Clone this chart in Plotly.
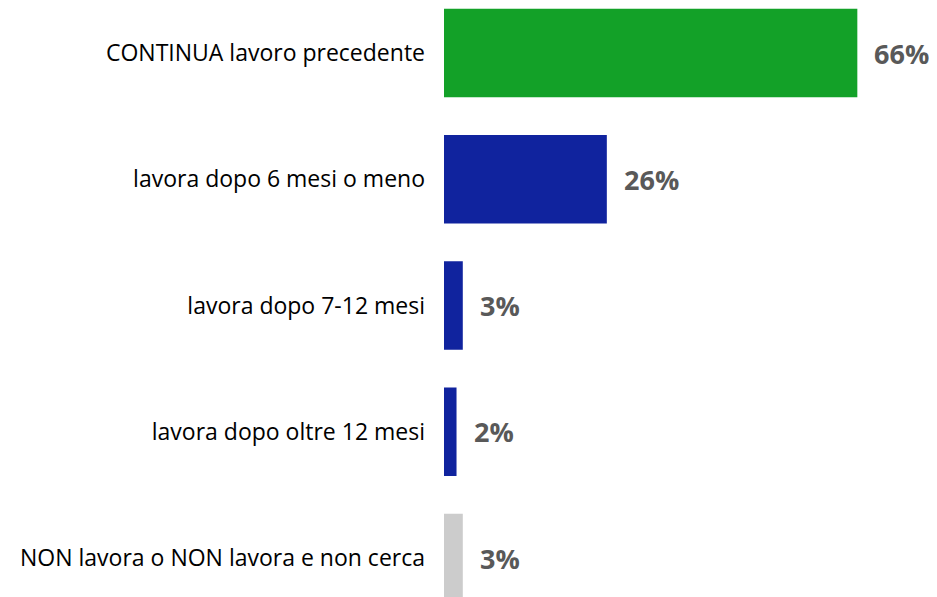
import plotly.graph_objects as go

categories = [
    "CONTINUA lavoro precedente",
    "lavora dopo 6 mesi o meno",
    "lavora dopo 7-12 mesi",
    "lavora dopo oltre 12 mesi",
    "NON lavora o NON lavora e non cerca",
]
values = [66, 26, 3, 2, 3]
value_labels = ["66%", "26%", "3%", "2%", "3%"]
colors = ["#13A128", "#10239E", "#10239E", "#10239E", "#CCCCCC"]

FONT = "Open Sans, Noto Sans, sans-serif"

fig = go.Figure(
    go.Bar(
        x=values,
        y=categories,
        orientation="h",
        marker=dict(color=colors, line=dict(width=0)),
        width=0.7,
        hoverinfo="skip",
    )
)

for v, c, t in zip(values, categories, value_labels):
    fig.add_annotation(
        x=v, y=c, text=f"<b>{t}</b>", showarrow=False,
        xanchor="left", yanchor="middle", xshift=15,
        font=dict(family=FONT, size=27, color="#595959"),
    )

fig.update_layout(
    width=937, height=597,
    margin=dict(l=436, r=0, t=0, b=0),
    paper_bgcolor="white", plot_bgcolor="white",
    showlegend=False,
    xaxis=dict(range=[0, 80.0], visible=False),
    yaxis=dict(
        categoryorder="array", categoryarray=categories,
        range=[4.372, -0.3564],
        showgrid=False, zeroline=False, showline=False, ticks="",
        ticklabelstandoff=18,
        tickfont=dict(family=FONT, size=23, color="#000000"),
    ),
)

fig.write_html("out.html")
